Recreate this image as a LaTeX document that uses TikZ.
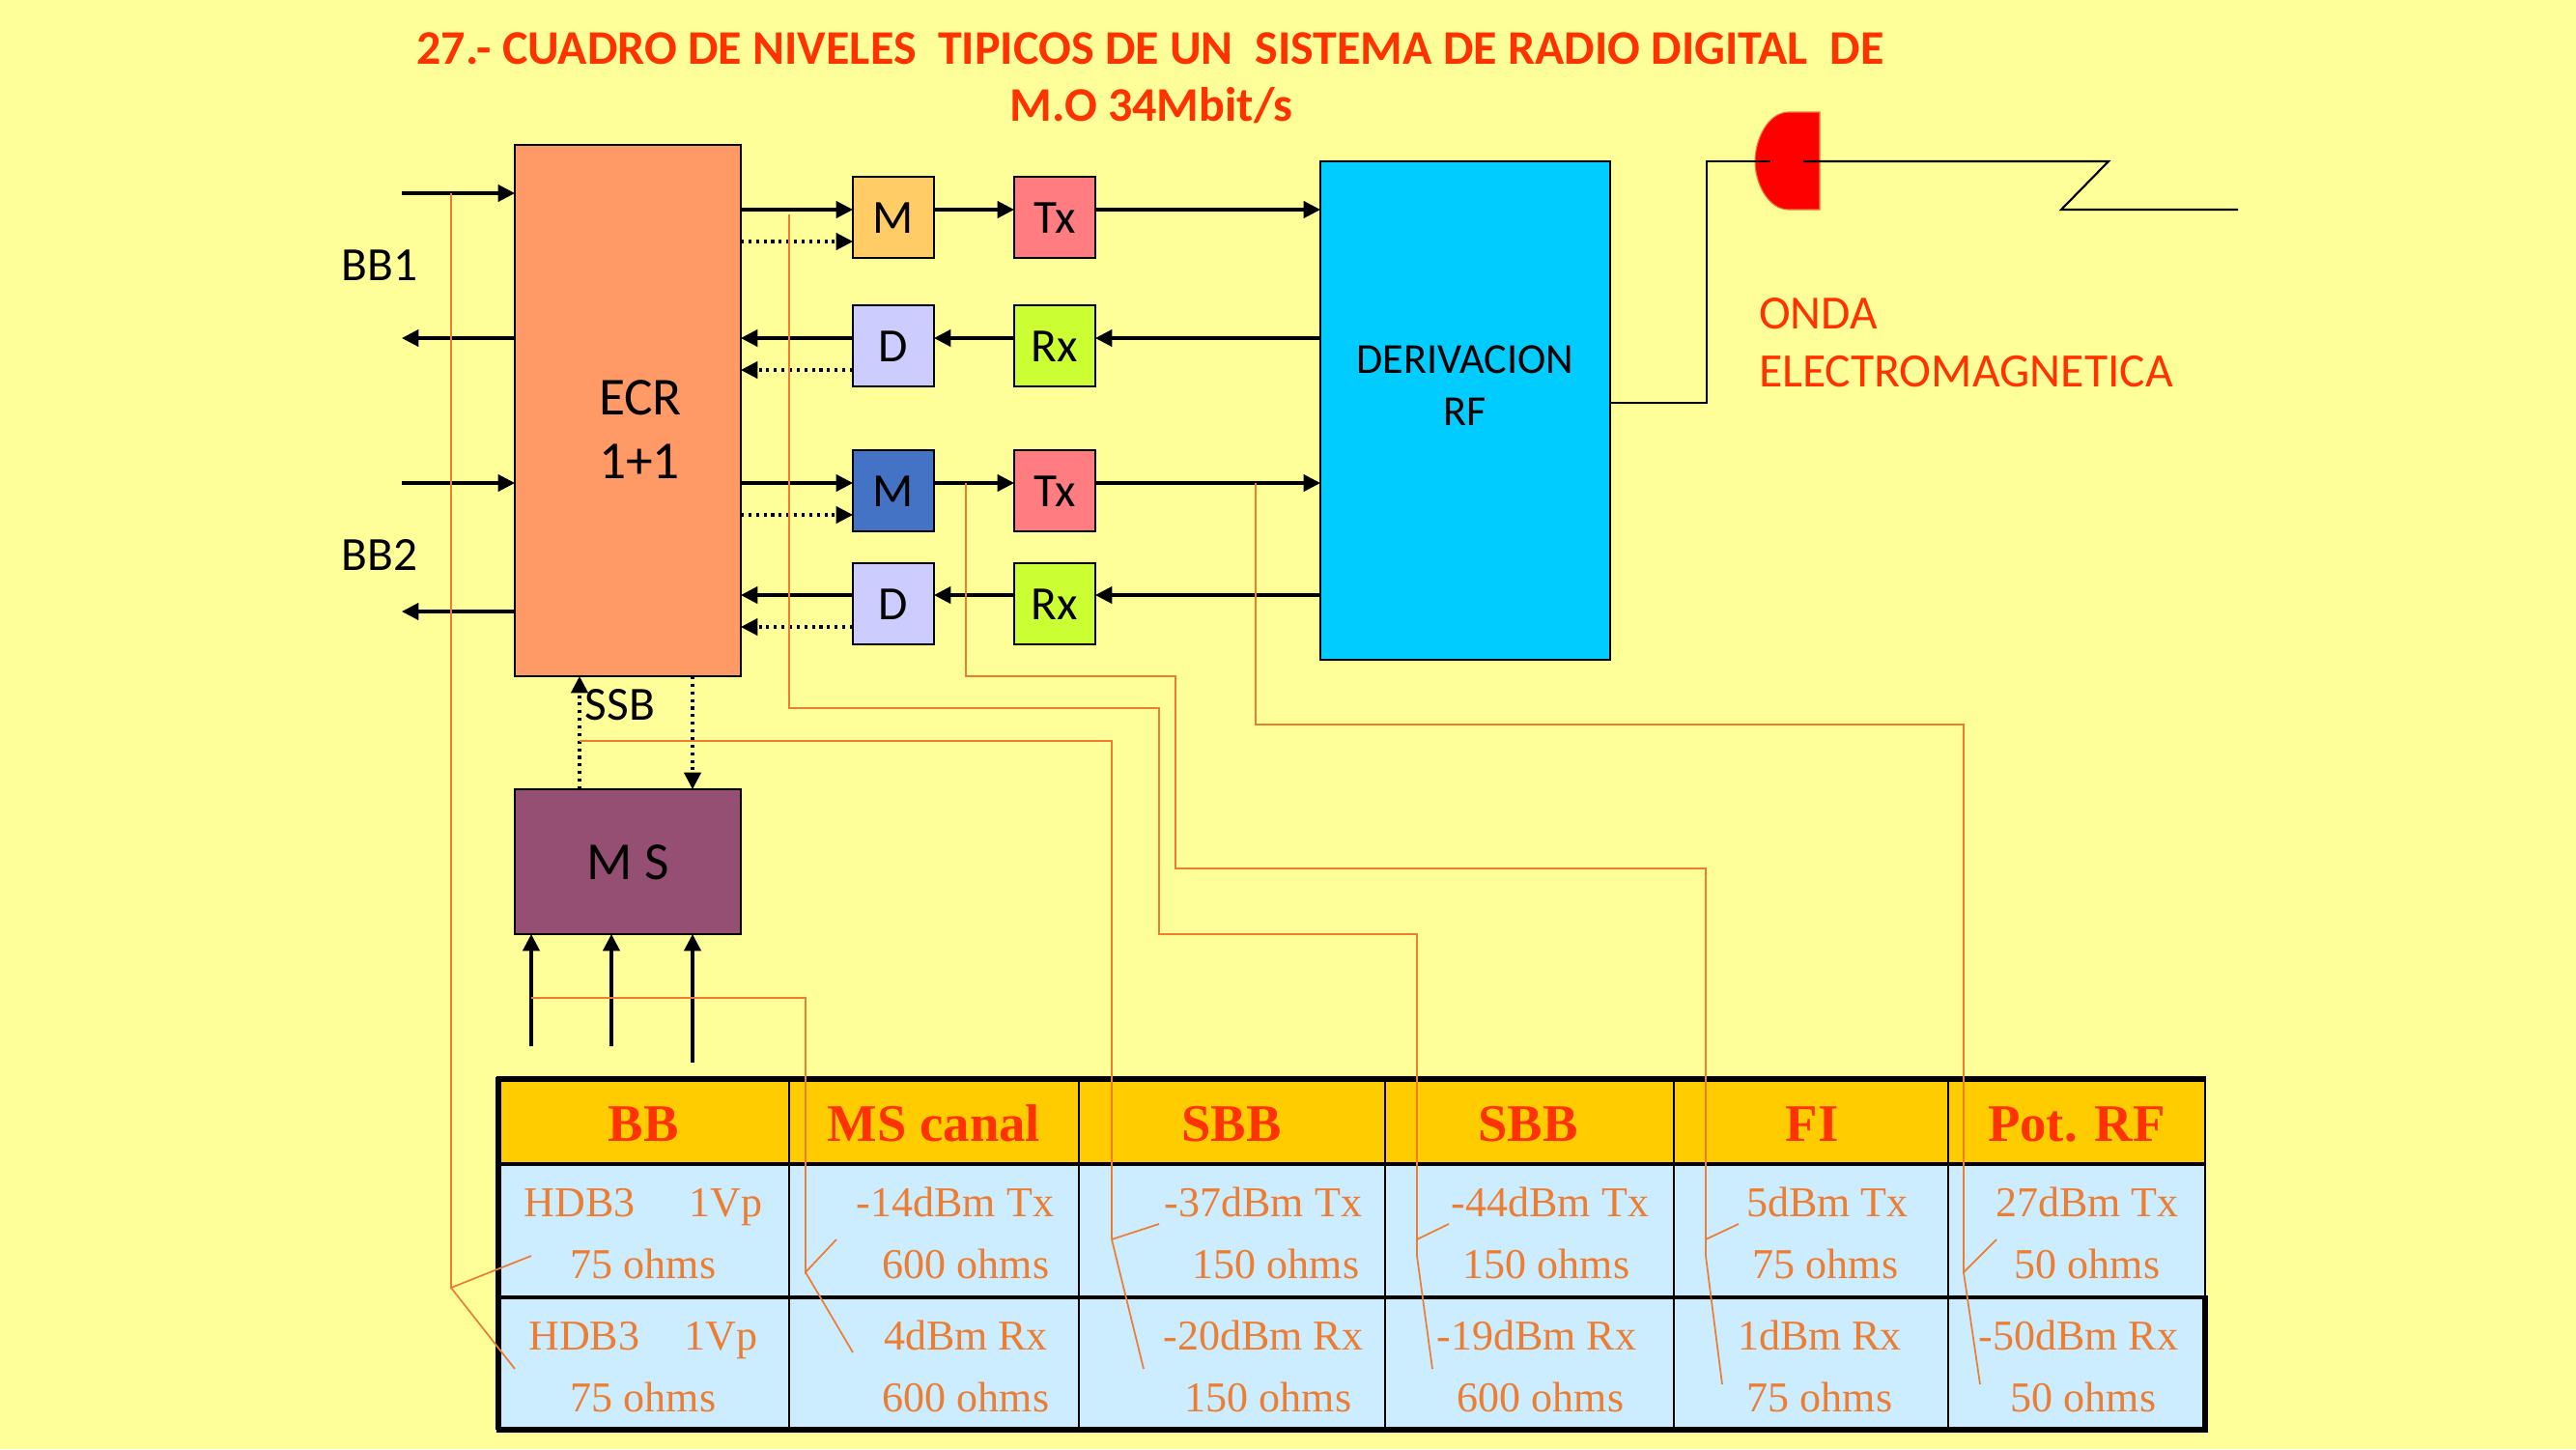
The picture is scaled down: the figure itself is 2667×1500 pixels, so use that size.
\documentclass[tikz,border=0pt]{standalone}
\usepackage{fontspec}
\setmainfont{Carlito}
\newfontfamily\tabfont{Liberation Serif}
\usetikzlibrary{arrows.meta,calc}
\definecolor{bgc}{HTML}{FFFF99}
\definecolor{orl}{HTML}{ED7D31}
\definecolor{redt}{HTML}{FF3300}
\definecolor{headc}{HTML}{FFCC00}
\definecolor{bodyc}{HTML}{CCECFF}
\definecolor{ecrc}{HTML}{FF9966}
\definecolor{moc}{HTML}{FFCC66}
\definecolor{txc}{HTML}{FF7C80}
\definecolor{dc}{HTML}{CCCCFF}
\definecolor{rxc}{HTML}{CCFF33}
\definecolor{mbc}{HTML}{4472C4}
\definecolor{derc}{HTML}{00CCFF}
\definecolor{msc}{HTML}{954F72}
\tikzset{
  blk/.style={draw=black,line width=1.9pt,outer sep=0pt,inner sep=0pt},
  small/.style={blk,minimum width=63pt,minimum height=63pt,text height=24.5pt,text depth=0pt,font=\fontsize{37}{40}\selectfont},
  sig/.style={line width=2.3pt,-{Triangle[length=13pt,width=13pt]}},
  dots/.style={line width=2.3pt,dash pattern=on 2.3pt off 3.6pt,-{Triangle[length=13pt,width=13pt]}},
  feed/.style={line width=1.6pt},
  guide/.style={draw=orl,line width=1.3pt},
  lab/.style={inner sep=0pt,outer sep=0pt,anchor=base,font=\fontsize{37}{40}\selectfont},
  big/.style={lab,font=\fontsize{41.5}{44}\selectfont},
  ttl/.style={inner sep=0pt,outer sep=0pt,anchor=base,text=redt,font=\fontsize{37.5}{40}\selectfont\bfseries},
  hd/.style={inner sep=0pt,outer sep=0pt,anchor=base,text=redt,font=\tabfont\fontsize{41}{44}\selectfont\bfseries},
  cell/.style={inner sep=0pt,outer sep=0pt,anchor=base,text=orl,font=\tabfont\fontsize{33}{36}\selectfont}
}
\begin{document}
\begin{tikzpicture}[x=0.75pt,y=-0.75pt]
\fill[bgc] (0,0) rectangle (2667,1500);
\useasboundingbox (0,0) rectangle (2667,1500);

% title
\node[ttl] (t1) at (1191,66) {27.- CUADRO DE NIVELES\ \ TIPICOS DE UN\ \ SISTEMA DE RADIO DIGITAL\ \ DE};
\node[ttl] (t2) at (1192,125) {M.O 34Mbit/s};

% blocks
\node[blk,fill=ecrc,minimum width=175.5pt,minimum height=412.5pt] (ecr) at (650,425) {};
\node[blk,fill=derc,minimum width=225pt,minimum height=387pt] (der) at (1517,425) {};
\node[blk,fill=msc,minimum width=175.5pt,minimum height=112.5pt] (ms) at (650,892) {};
\node[small,fill=moc] (m1) at (925,225) {M};
\node[small,fill=txc] (tx1) at (1092,225) {Tx};
\node[small,fill=dc] (d1) at (925,358) {D};
\node[small,fill=rxc] (rx1) at (1092,358) {Rx};
\node[small,fill=mbc] (m2) at (925,508) {M};
\node[small,fill=txc] (tx2) at (1092,508) {Tx};
\node[small,fill=dc] (d2) at (925,625) {D};
\node[small,fill=rxc] (rx2) at (1092,625) {Rx};

% block texts
\node[big] (e1) at (663,429) {ECR};
\node[big] (e2) at (662,495) {1+1};
\node[big] (msl) at (650,910) {M S};
\node[inner sep=0pt,anchor=base,font=\fontsize{33.2}{36}\selectfont] (dl1) at (1517,386) {DERIVACION};
\node[inner sep=0pt,anchor=base,font=\fontsize{33.2}{36}\selectfont] (dl2) at (1517,440) {RF};
\node[lab] (bb1) at (393,290) {BB1};
\node[lab] (bb2) at (393,590) {BB2};
\node[lab] (ssb) at (642,745) {SSB};
\node[lab,anchor=base west,text=redt] (on1) at (1821,340) {ONDA};
\node[lab,anchor=base west,text=redt,font=\fontsize{37.2}{40}\selectfont] (on2) at (1821,400) {ELECTROMAGNETICA};

% port rows
\coordinate (a) at (416,200);
\coordinate (b) at (416,350);
\coordinate (c) at (416,500);
\coordinate (e) at (416,633);
\coordinate (r1) at (0,217);
\coordinate (r1d) at (0,250);
\coordinate (r2) at (0,350);
\coordinate (r2d) at (0,383);
\coordinate (r3) at (0,500);
\coordinate (r3d) at (0,533);
\coordinate (r4) at (0,616);
\coordinate (r4d) at (0,649);

% baseband
\draw[sig] (a) -- (ecr.west |- a);
\draw[sig] (ecr.west |- b) -- (b);
\draw[sig] (c) -- (ecr.west |- c);
\draw[sig] (ecr.west |- e) -- (e);

% chain 1
\draw[sig] (ecr.east |- r1) -- (m1.west |- r1);
\draw[dots] (ecr.east |- r1d) -- (m1.west |- r1d);
\draw[sig] (m1.east |- r1) -- (tx1.west |- r1);
\draw[sig] (tx1.east |- r1) -- (der.west |- r1);
\draw[sig] (d1.west |- r2) -- (ecr.east |- r2);
\draw[dots] (d1.west |- r2d) -- (ecr.east |- r2d);
\draw[sig] (rx1.west |- r2) -- (d1.east |- r2);
\draw[sig] (der.west |- r2) -- (rx1.east |- r2);
% chain 2
\draw[sig] (ecr.east |- r3) -- (m2.west |- r3);
\draw[dots] (ecr.east |- r3d) -- (m2.west |- r3d);
\draw[sig] (m2.east |- r3) -- (tx2.west |- r3);
\draw[sig] (tx2.east |- r3) -- (der.west |- r3);
\draw[sig] (d2.west |- r4) -- (ecr.east |- r4);
\draw[dots] (d2.west |- r4d) -- (ecr.east |- r4d);
\draw[sig] (rx2.west |- r4) -- (d2.east |- r4);
\draw[sig] (der.west |- r4) -- (rx2.east |- r4);

% service channel
\coordinate (su) at (600,0);
\coordinate (sd) at (717,0);
\draw[dots] (ms.north -| su) -- (ecr.south -| su);
\draw[dots] (ecr.south -| sd) -- (ms.north -| sd);
\coordinate (i1) at (550,1083);
\coordinate (i2) at (633,1083);
\coordinate (i3) at (717,1100);
\draw[sig] (i1) -- (ms.south -| i1);
\draw[sig] (i2) -- (ms.south -| i2);
\draw[sig] (i3) -- (ms.south -| i3);

% antenna
\path[fill=red,draw=orl,line width=0.8pt] (1884,116) -- (1852,116)
  .. controls (1830,116) and (1817,145) .. (1817,167)
  .. controls (1817,189) and (1830,217) .. (1852,217) -- (1884,217) -- cycle;
\coordinate (an1) at (1833,167);
\coordinate (an2) at (1867,167);
\coordinate (zz1) at (2183,167);
\coordinate (zz2) at (2134,217);
\coordinate (zz3) at (2317,217);
\coordinate (dout) at (0,417);
\coordinate (dup) at (1767,0);
\draw[feed] (der.east |- dout) -| (dup |- an1) -- (an1);
\draw[feed] (an2) -- (zz1) -- (zz2) -- (zz3);

% table
\fill[headc] (516,1117) rectangle (2284,1205);
\fill[bodyc] (516,1205) rectangle (2284,1480);
\draw[line width=2.2pt] (817,1117) -- (817,1480);
\draw[line width=2.2pt] (1117,1117) -- (1117,1480);
\draw[line width=2.2pt] (1434,1117) -- (1434,1480);
\draw[line width=2.2pt] (1733,1117) -- (1733,1480);
\draw[line width=2.2pt] (2017,1117) -- (2017,1480);
\draw[line width=2.4pt] (516,1205) -- (2284,1205);
\draw[line width=3pt] (516,1343) -- (2284,1343);
\draw[line width=1.8pt] (2283,1117) -- (2283,1343);
\draw[line width=4.4pt] (2283,1341) -- (2283,1482);
\draw[line width=4.4pt] (514,1117) -- (2284,1117);
\draw[line width=4.4pt] (516,1115) -- (516,1480);
\draw[line width=4.4pt] (514,1480) -- (2286,1480);

\node[hd] (h1) at (666,1181) {BB};
\node[hd] (h2) at (967,1181) {MS canal};
\node[hd] (h3) at (1275,1181) {SBB};
\node[hd] (h4) at (1582,1181) {SBB};
\node[hd] (h5) at (1876,1181) {FI};
\node[hd] (h6) at (2150,1181) {Pot. RF};

\node[cell] (c11) at (666,1259.5) {HDB3\hspace{42pt}1Vp};
\node[cell] (c12) at (666,1323.5) {75 ohms};
\node[cell] (c13) at (666,1397.5) {HDB3\hspace{35pt}1Vp};
\node[cell] (c14) at (666,1461.5) {75 ohms};
\node[cell] (c21) at (989,1259.5) {-14dBm Tx};
\node[cell] (c22) at (1000,1323.5) {600 ohms};
\node[cell] (c23) at (1000,1397.5) {4dBm Rx};
\node[cell] (c24) at (1000,1461.5) {600 ohms};
\node[cell] (c31) at (1308,1259.5) {-37dBm Tx};
\node[cell] (c32) at (1321,1323.5) {150 ohms};
\node[cell] (c33) at (1308,1397.5) {-20dBm Rx};
\node[cell] (c34) at (1313,1461.5) {150 ohms};
\node[cell] (c41) at (1605,1259.5) {-44dBm Tx};
\node[cell] (c42) at (1601,1323.5) {150 ohms};
\node[cell] (c43) at (1591,1397.5) {-19dBm Rx};
\node[cell] (c44) at (1595,1461.5) {600 ohms};
\node[cell] (c51) at (1892,1259.5) {5dBm Tx};
\node[cell] (c52) at (1890,1323.5) {75 ohms};
\node[cell] (c53) at (1884,1397.5) {1dBm Rx};
\node[cell] (c54) at (1884,1461.5) {75 ohms};
\node[cell] (c61) at (2161,1259.5) {27dBm Tx};
\node[cell] (c62) at (2161,1323.5) {50 ohms};
\node[cell] (c63) at (2152,1397.5) {-50dBm Rx};
\node[cell] (c64) at (2157,1461.5) {50 ohms};

% orange level guides
\draw[guide] (550,1300) -- (467,1333) -- (467,200);
\draw[guide] (467,1333) -- (533,1417);
\draw[guide] (550,1033) -- (834,1033) -- (834,1317) -- (866,1283);
\draw[guide] (834,1317) -- (883,1400);
\draw[guide] (600,767) -- (1151,767) -- (1151,1283) -- (1200,1267);
\draw[guide] (1151,1283) -- (1184,1417);
\draw[guide] (817,222) -- (817,733) -- (1200,733) -- (1200,967) -- (1467,967) -- (1467,1283) -- (1500,1267);
\draw[guide] (1467,1283) -- (1467,1300) -- (1483,1417);
\draw[guide] (1000,500) -- (1000,700) -- (1217,700) -- (1217,899) -- (1766,899) -- (1766,1283) -- (1800,1267);
\draw[guide] (1766,1283) -- (1766,1300) -- (1783,1433);
\draw[guide] (1300,500) -- (1300,750) -- (2033,750) -- (2033,1317) -- (2067,1283);
\draw[guide] (2033,1317) -- (2050,1433);
\end{tikzpicture}
\end{document}
